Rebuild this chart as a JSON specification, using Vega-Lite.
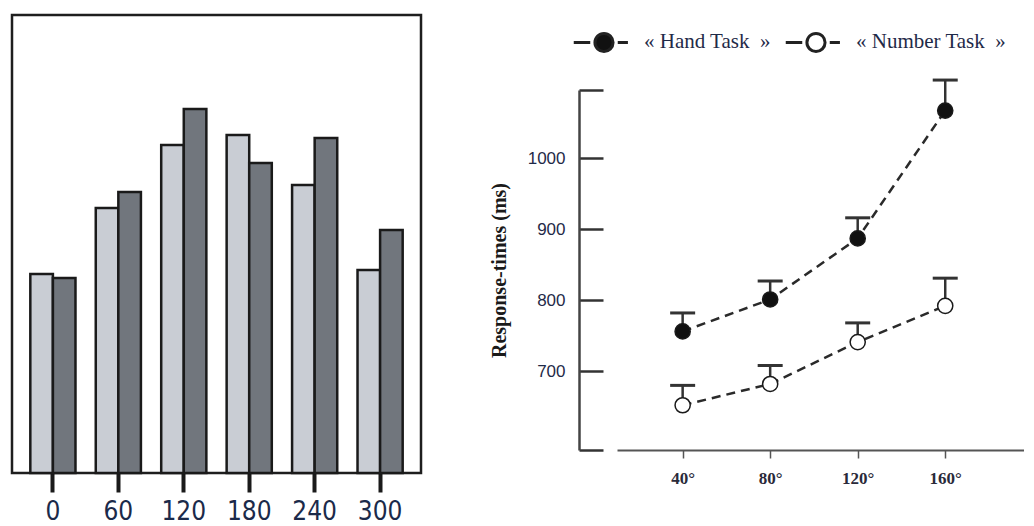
{
  "$schema": "https://vega.github.io/schema/vega-lite/v6.json",
  "background": "white",
  "padding": {"left": 10, "top": 12, "right": 0, "bottom": 0},
  "spacing": 66,
  "config": {"font": "Liberation Serif"},
  "resolve": {"scale": {"color": "independent", "fill": "independent"}, "legend": {"color": "independent", "fill": "independent"}},
  "hconcat": [
    {
      "width": 409,
      "height": 458,
      "view": {"stroke": "#1e1e1e", "strokeWidth": 2.5},
      "data": {
        "values": [
          {"angle": 0, "cond": "A", "value": 199},
          {"angle": 0, "cond": "B", "value": 195},
          {"angle": 60, "cond": "A", "value": 265},
          {"angle": 60, "cond": "B", "value": 281},
          {"angle": 120, "cond": "A", "value": 328},
          {"angle": 120, "cond": "B", "value": 364},
          {"angle": 180, "cond": "A", "value": 338},
          {"angle": 180, "cond": "B", "value": 310},
          {"angle": 240, "cond": "A", "value": 288},
          {"angle": 240, "cond": "B", "value": 335},
          {"angle": 300, "cond": "A", "value": 203},
          {"angle": 300, "cond": "B", "value": 243}
        ]
      },
      "mark": {"type": "bar", "stroke": "#1a1a1a", "strokeWidth": 2.5, "opacity": 1},
      "encoding": {
        "x": {
          "field": "angle",
          "type": "ordinal",
          "scale": {"paddingInner": 0.31, "paddingOuter": 0.28},
          "axis": {
            "title": null,
            "domain": false,
            "labelAngle": 0,
            "tickSize": 19,
            "tickWidth": 4,
            "tickColor": "#1a1a1a",
            "labelFont": "'DejaVu Sans Condensed', Lato, sans-serif",
            "labelFontSize": 26,
            "labelColor": "#1b2a4a",
            "labelPadding": 6
          }
        },
        "xOffset": {"field": "cond", "type": "nominal", "scale": {"paddingInner": 0}},
        "y": {"field": "value", "type": "quantitative", "scale": {"domain": [0, 458]}, "axis": null},
        "color": {"field": "cond", "type": "nominal", "scale": {"domain": ["A", "B"], "range": ["#c9cdd4", "#71767d"]}, "legend": null}
      }
    },
    {
      "spacing": -6,
      "resolve": {"scale": {"fill": "independent"}, "legend": {"fill": "independent"}},
      "vconcat": [
        {
          "width": 10,
          "height": 1,
          "view": {"stroke": null},
          "data": {"values": [{"s": 0}]},
          "mark": {"type": "point", "opacity": 0},
          "encoding": {}
        },
        {
          "width": 407,
          "height": 360,
          "view": {"stroke": null},
          "data": {
            "values": [
              {"angle": 40, "task": "Hand Task", "rt": 756, "upper": 782},
              {"angle": 80, "task": "Hand Task", "rt": 801, "upper": 827},
              {"angle": 120, "task": "Hand Task", "rt": 887, "upper": 916},
              {"angle": 160, "task": "Hand Task", "rt": 1067, "upper": 1110},
              {"angle": 40, "task": "Number Task", "rt": 652, "upper": 680},
              {"angle": 80, "task": "Number Task", "rt": 682, "upper": 708},
              {"angle": 120, "task": "Number Task", "rt": 741, "upper": 768},
              {"angle": 160, "task": "Number Task", "rt": 792, "upper": 831}
            ]
          },
          "encoding": {
            "x": {
              "field": "angle",
              "type": "quantitative",
              "scale": {"domain": [10, 196], "nice": false, "zero": false},
              "axis": {
                "title": null,
                "grid": false,
                "values": [40, 80, 120, 160],
                "labelExpr": "datum.value + '°'",
                "domainColor": "#555555",
                "domainWidth": 2,
                "tickColor": "#555555",
                "tickSize": 8,
                "tickWidth": 1.5,
                "labelFont": "Liberation Serif",
                "labelFontWeight": "bold",
                "labelFontSize": 17,
                "labelColor": "#2a2a3a",
                "labelPadding": 12
              }
            },
            "y": {
              "field": "rt",
              "type": "quantitative",
              "scale": {"domain": [589, 1096], "nice": false, "zero": false},
              "axis": {
                "orient": "left",
                "offset": 38,
                "grid": false,
                "values": [589, 700, 800, 900, 1000, 1096],
                "format": "d",
                "labelExpr": "datum.value == 589 || datum.value == 1096 ? '' : datum.label",
                "tickSize": -24,
                "tickWidth": 2.5,
                "tickColor": "#333333",
                "domainColor": "#444444",
                "domainWidth": 2.5,
                "labelFont": "Liberation Sans",
                "labelFontSize": 17,
                "labelColor": "#1f2a48",
                "labelPadding": 38,
                "title": "Response-times (ms)",
                "titleFont": "Liberation Serif",
                "titleFontWeight": "bold",
                "titleFontSize": 20,
                "titleColor": "#1a1a1a",
                "titlePadding": 18
              }
            }
          },
          "layer": [
            {
              "mark": {"type": "line", "strokeDash": [9, 6], "strokeWidth": 2.5, "color": "#2a2a2a"},
              "encoding": {"detail": {"field": "task", "type": "nominal"}}
            },
            {
              "mark": {"type": "rule", "strokeWidth": 2.5, "color": "#333333"},
              "encoding": {"y2": {"field": "upper"}}
            },
            {
              "mark": {"type": "tick", "orient": "horizontal", "size": 25, "thickness": 3, "color": "#333333", "opacity": 1},
              "encoding": {"y": {"field": "upper", "type": "quantitative"}}
            },
            {
              "mark": {"type": "point", "filled": true, "size": 230, "stroke": "#1a1a1a", "strokeWidth": 1.5, "opacity": 1},
              "encoding": {
                "fill": {
                  "field": "task",
                  "type": "nominal",
                  "scale": {"domain": ["Hand Task", "Number Task"], "range": ["#111111", "#ffffff"]},
                  "legend": {
                    "orient": "none",
                    "legendX": -42,
                    "legendY": -77,
                    "direction": "horizontal",
                    "title": null,
                    "symbolType": "M-1.1,0L-0.5,0M0.5,0L0.87,0M-0.33,0A0.33,0.33,0,1,1,0.33,0A0.33,0.33,0,1,1,-0.33,0Z",
                    "symbolSize": 3025,
                    "symbolStrokeColor": "#222222",
                    "symbolStrokeWidth": 3,
                    "symbolOpacity": 1,
                    "labelExpr": "'« ' + datum.label + ' \u00a0»'",
                    "labelFont": "Liberation Serif",
                    "labelFontSize": 21,
                    "labelColor": "#1f2a48",
                    "labelOffset": 11,
                    "columnPadding": 8
                  }
                }
              }
            }
          ]
        }
      ]
    }
  ]
}
